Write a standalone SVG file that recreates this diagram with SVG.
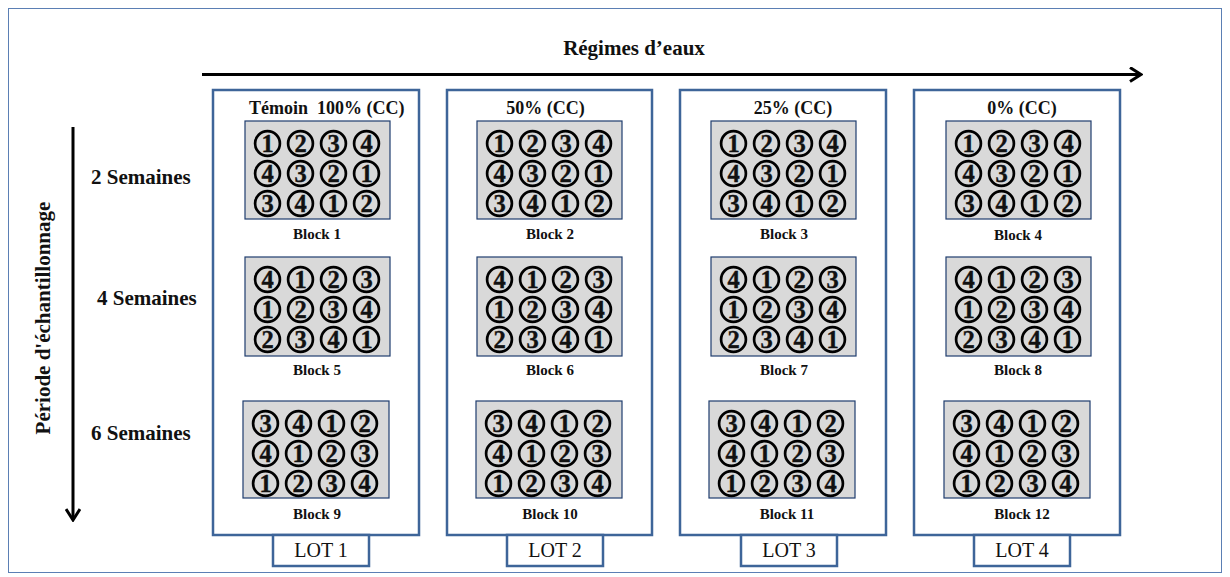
<svg xmlns="http://www.w3.org/2000/svg" width="1230" height="577" viewBox="0 0 1230 577">
  <style>
    .frame { fill: #ffffff; stroke: #5b7fb4; stroke-width: 1; }
    .lot { fill: #ffffff; stroke: #3e6599; stroke-width: 2.5; }
    .plot { fill: #d9d9d9; stroke: #1f3d6e; stroke-width: 1.2; }
    .pot { fill: none; stroke: #000000; stroke-width: 2.7; }
    .num { font-family: "Liberation Serif", "Times New Roman", serif; font-weight: bold; font-size: 24.5px; fill: #111111; stroke: #111111; stroke-width: 0.4; text-anchor: middle; }
    .head { font-family: "Liberation Serif", "Times New Roman", serif; font-weight: bold; font-size: 18px; fill: #111111; text-anchor: middle; }
    .head-start { text-anchor: start; }
    .blk { font-family: "Liberation Serif", "Times New Roman", serif; font-weight: bold; font-size: 15px; fill: #111111; text-anchor: middle; }
    .axis { font-family: "Liberation Serif", "Times New Roman", serif; font-weight: bold; font-size: 21px; fill: #111111; }
    .mid { text-anchor: middle; }
    .lotname { font-family: "Liberation Serif", "Times New Roman", serif; font-size: 20px; fill: #111111; text-anchor: middle; }
    .arrow { fill: none; stroke: #000000; stroke-width: 3; }
  </style>
  <defs>
    <marker id="chev" viewBox="0 0 14 16" refX="12" refY="8" markerWidth="14" markerHeight="16" markerUnits="userSpaceOnUse" orient="auto">
      <polyline points="1,1 12,8 1,15" fill="none" stroke="#000000" stroke-width="3"/>
    </marker>
  </defs>

  <!-- outer frame -->
  <rect class="frame" x="8.5" y="8.5" width="1213" height="564"/>

  <!-- axes -->
  <g id="connectors">
    <line class="arrow" x1="202" y1="74.5" x2="1141" y2="74.5" marker-end="url(#chev)"/>
    <line class="arrow" x1="73" y1="127" x2="73" y2="520" stroke-width="2.6" marker-end="url(#chev)"/>
  </g>
  <text class="axis mid" x="634" y="55">Régimes d’eaux</text>
  <text class="axis mid" transform="translate(50,318) rotate(-90)">Période d'échantillonnage</text>
  <text class="axis" x="91" y="184">2 Semaines</text>
  <text class="axis" x="97" y="305">4 Semaines</text>
  <text class="axis" x="91" y="440">6 Semaines</text>

  <!-- water regime lots -->
  <g id="lot1">
    <rect class="lot" x="213" y="90" width="206" height="445"/>
    <rect class="lot" x="273" y="535" width="96" height="31"/>
    <text class="lotname" x="321" y="557">LOT 1</text>
    <text class="head head-start" x="249" y="114" xml:space="preserve">Témoin  100% (CC)</text>
  </g>
  <g id="lot2">
    <rect class="lot" x="447" y="90" width="205" height="445"/>
    <rect class="lot" x="507" y="535" width="96" height="31"/>
    <text class="lotname" x="555" y="557">LOT 2</text>
    <text class="head" x="545.5" y="114">50% (CC)</text>
  </g>
  <g id="lot3">
    <rect class="lot" x="680" y="90" width="206" height="445"/>
    <rect class="lot" x="741" y="535" width="96" height="31"/>
    <text class="lotname" x="789" y="557">LOT 3</text>
    <text class="head" x="793" y="114">25% (CC)</text>
  </g>
  <g id="lot4">
    <rect class="lot" x="914" y="90" width="206" height="445"/>
    <rect class="lot" x="974" y="535" width="96" height="31"/>
    <text class="lotname" x="1022" y="557">LOT 4</text>
    <text class="head" x="1022" y="114">0% (CC)</text>
  </g>

  <!-- 2 weeks: blocks 1-4 -->
  <g id="block1" transform="translate(245,121)">
    <rect class="plot" x="0" y="0" width="145" height="98"/>
    <circle class="pot" cx="22.5" cy="22.5" r="12.4"/><circle class="pot" cx="55.5" cy="22.5" r="12.4"/><circle class="pot" cx="88.5" cy="22.5" r="12.4"/><circle class="pot" cx="121.5" cy="22.5" r="12.4"/>
    <circle class="pot" cx="22.5" cy="52.5" r="12.4"/><circle class="pot" cx="55.5" cy="52.5" r="12.4"/><circle class="pot" cx="88.5" cy="52.5" r="12.4"/><circle class="pot" cx="121.5" cy="52.5" r="12.4"/>
    <circle class="pot" cx="22.5" cy="82.5" r="12.4"/><circle class="pot" cx="55.5" cy="82.5" r="12.4"/><circle class="pot" cx="88.5" cy="82.5" r="12.4"/><circle class="pot" cx="121.5" cy="82.5" r="12.4"/>
    <text class="num" x="22.5" y="31">1</text><text class="num" x="55.5" y="31">2</text><text class="num" x="88.5" y="31">3</text><text class="num" x="121.5" y="31">4</text>
    <text class="num" x="22.5" y="61">4</text><text class="num" x="55.5" y="61">3</text><text class="num" x="88.5" y="61">2</text><text class="num" x="121.5" y="61">1</text>
    <text class="num" x="22.5" y="91">3</text><text class="num" x="55.5" y="91">4</text><text class="num" x="88.5" y="91">1</text><text class="num" x="121.5" y="91">2</text>
    <text class="blk" x="72" y="118">Block 1</text>
  </g>
  <g id="block2" transform="translate(477,121)">
    <rect class="plot" x="0" y="0" width="145" height="98"/>
    <circle class="pot" cx="22.5" cy="22.5" r="12.4"/><circle class="pot" cx="55.5" cy="22.5" r="12.4"/><circle class="pot" cx="88.5" cy="22.5" r="12.4"/><circle class="pot" cx="121.5" cy="22.5" r="12.4"/>
    <circle class="pot" cx="22.5" cy="52.5" r="12.4"/><circle class="pot" cx="55.5" cy="52.5" r="12.4"/><circle class="pot" cx="88.5" cy="52.5" r="12.4"/><circle class="pot" cx="121.5" cy="52.5" r="12.4"/>
    <circle class="pot" cx="22.5" cy="82.5" r="12.4"/><circle class="pot" cx="55.5" cy="82.5" r="12.4"/><circle class="pot" cx="88.5" cy="82.5" r="12.4"/><circle class="pot" cx="121.5" cy="82.5" r="12.4"/>
    <text class="num" x="22.5" y="31">1</text><text class="num" x="55.5" y="31">2</text><text class="num" x="88.5" y="31">3</text><text class="num" x="121.5" y="31">4</text>
    <text class="num" x="22.5" y="61">4</text><text class="num" x="55.5" y="61">3</text><text class="num" x="88.5" y="61">2</text><text class="num" x="121.5" y="61">1</text>
    <text class="num" x="22.5" y="91">3</text><text class="num" x="55.5" y="91">4</text><text class="num" x="88.5" y="91">1</text><text class="num" x="121.5" y="91">2</text>
    <text class="blk" x="73" y="118">Block 2</text>
  </g>
  <g id="block3" transform="translate(711,121)">
    <rect class="plot" x="0" y="0" width="145" height="98"/>
    <circle class="pot" cx="22.5" cy="22.5" r="12.4"/><circle class="pot" cx="55.5" cy="22.5" r="12.4"/><circle class="pot" cx="88.5" cy="22.5" r="12.4"/><circle class="pot" cx="121.5" cy="22.5" r="12.4"/>
    <circle class="pot" cx="22.5" cy="52.5" r="12.4"/><circle class="pot" cx="55.5" cy="52.5" r="12.4"/><circle class="pot" cx="88.5" cy="52.5" r="12.4"/><circle class="pot" cx="121.5" cy="52.5" r="12.4"/>
    <circle class="pot" cx="22.5" cy="82.5" r="12.4"/><circle class="pot" cx="55.5" cy="82.5" r="12.4"/><circle class="pot" cx="88.5" cy="82.5" r="12.4"/><circle class="pot" cx="121.5" cy="82.5" r="12.4"/>
    <text class="num" x="22.5" y="31">1</text><text class="num" x="55.5" y="31">2</text><text class="num" x="88.5" y="31">3</text><text class="num" x="121.5" y="31">4</text>
    <text class="num" x="22.5" y="61">4</text><text class="num" x="55.5" y="61">3</text><text class="num" x="88.5" y="61">2</text><text class="num" x="121.5" y="61">1</text>
    <text class="num" x="22.5" y="91">3</text><text class="num" x="55.5" y="91">4</text><text class="num" x="88.5" y="91">1</text><text class="num" x="121.5" y="91">2</text>
    <text class="blk" x="73" y="118">Block 3</text>
  </g>
  <g id="block4" transform="translate(946,121)">
    <rect class="plot" x="0" y="0" width="145" height="98"/>
    <circle class="pot" cx="22.5" cy="22.5" r="12.4"/><circle class="pot" cx="55.5" cy="22.5" r="12.4"/><circle class="pot" cx="88.5" cy="22.5" r="12.4"/><circle class="pot" cx="121.5" cy="22.5" r="12.4"/>
    <circle class="pot" cx="22.5" cy="52.5" r="12.4"/><circle class="pot" cx="55.5" cy="52.5" r="12.4"/><circle class="pot" cx="88.5" cy="52.5" r="12.4"/><circle class="pot" cx="121.5" cy="52.5" r="12.4"/>
    <circle class="pot" cx="22.5" cy="82.5" r="12.4"/><circle class="pot" cx="55.5" cy="82.5" r="12.4"/><circle class="pot" cx="88.5" cy="82.5" r="12.4"/><circle class="pot" cx="121.5" cy="82.5" r="12.4"/>
    <text class="num" x="22.5" y="31">1</text><text class="num" x="55.5" y="31">2</text><text class="num" x="88.5" y="31">3</text><text class="num" x="121.5" y="31">4</text>
    <text class="num" x="22.5" y="61">4</text><text class="num" x="55.5" y="61">3</text><text class="num" x="88.5" y="61">2</text><text class="num" x="121.5" y="61">1</text>
    <text class="num" x="22.5" y="91">3</text><text class="num" x="55.5" y="91">4</text><text class="num" x="88.5" y="91">1</text><text class="num" x="121.5" y="91">2</text>
    <text class="blk" x="72" y="119">Block 4</text>
  </g>

  <!-- 4 weeks: blocks 5-8 -->
  <g id="block5" transform="translate(245,257)">
    <rect class="plot" x="0" y="0" width="145" height="99"/>
    <circle class="pot" cx="22.5" cy="22.5" r="12.4"/><circle class="pot" cx="55.5" cy="22.5" r="12.4"/><circle class="pot" cx="88.5" cy="22.5" r="12.4"/><circle class="pot" cx="121.5" cy="22.5" r="12.4"/>
    <circle class="pot" cx="22.5" cy="52.5" r="12.4"/><circle class="pot" cx="55.5" cy="52.5" r="12.4"/><circle class="pot" cx="88.5" cy="52.5" r="12.4"/><circle class="pot" cx="121.5" cy="52.5" r="12.4"/>
    <circle class="pot" cx="22.5" cy="82.5" r="12.4"/><circle class="pot" cx="55.5" cy="82.5" r="12.4"/><circle class="pot" cx="88.5" cy="82.5" r="12.4"/><circle class="pot" cx="121.5" cy="82.5" r="12.4"/>
    <text class="num" x="22.5" y="31">4</text><text class="num" x="55.5" y="31">1</text><text class="num" x="88.5" y="31">2</text><text class="num" x="121.5" y="31">3</text>
    <text class="num" x="22.5" y="61">1</text><text class="num" x="55.5" y="61">2</text><text class="num" x="88.5" y="61">3</text><text class="num" x="121.5" y="61">4</text>
    <text class="num" x="22.5" y="91">2</text><text class="num" x="55.5" y="91">3</text><text class="num" x="88.5" y="91">4</text><text class="num" x="121.5" y="91">1</text>
    <text class="blk" x="72" y="118">Block 5</text>
  </g>
  <g id="block6" transform="translate(477,257)">
    <rect class="plot" x="0" y="0" width="145" height="99"/>
    <circle class="pot" cx="22.5" cy="22.5" r="12.4"/><circle class="pot" cx="55.5" cy="22.5" r="12.4"/><circle class="pot" cx="88.5" cy="22.5" r="12.4"/><circle class="pot" cx="121.5" cy="22.5" r="12.4"/>
    <circle class="pot" cx="22.5" cy="52.5" r="12.4"/><circle class="pot" cx="55.5" cy="52.5" r="12.4"/><circle class="pot" cx="88.5" cy="52.5" r="12.4"/><circle class="pot" cx="121.5" cy="52.5" r="12.4"/>
    <circle class="pot" cx="22.5" cy="82.5" r="12.4"/><circle class="pot" cx="55.5" cy="82.5" r="12.4"/><circle class="pot" cx="88.5" cy="82.5" r="12.4"/><circle class="pot" cx="121.5" cy="82.5" r="12.4"/>
    <text class="num" x="22.5" y="31">4</text><text class="num" x="55.5" y="31">1</text><text class="num" x="88.5" y="31">2</text><text class="num" x="121.5" y="31">3</text>
    <text class="num" x="22.5" y="61">1</text><text class="num" x="55.5" y="61">2</text><text class="num" x="88.5" y="61">3</text><text class="num" x="121.5" y="61">4</text>
    <text class="num" x="22.5" y="91">2</text><text class="num" x="55.5" y="91">3</text><text class="num" x="88.5" y="91">4</text><text class="num" x="121.5" y="91">1</text>
    <text class="blk" x="73" y="118">Block 6</text>
  </g>
  <g id="block7" transform="translate(711,257)">
    <rect class="plot" x="0" y="0" width="145" height="99"/>
    <circle class="pot" cx="22.5" cy="22.5" r="12.4"/><circle class="pot" cx="55.5" cy="22.5" r="12.4"/><circle class="pot" cx="88.5" cy="22.5" r="12.4"/><circle class="pot" cx="121.5" cy="22.5" r="12.4"/>
    <circle class="pot" cx="22.5" cy="52.5" r="12.4"/><circle class="pot" cx="55.5" cy="52.5" r="12.4"/><circle class="pot" cx="88.5" cy="52.5" r="12.4"/><circle class="pot" cx="121.5" cy="52.5" r="12.4"/>
    <circle class="pot" cx="22.5" cy="82.5" r="12.4"/><circle class="pot" cx="55.5" cy="82.5" r="12.4"/><circle class="pot" cx="88.5" cy="82.5" r="12.4"/><circle class="pot" cx="121.5" cy="82.5" r="12.4"/>
    <text class="num" x="22.5" y="31">4</text><text class="num" x="55.5" y="31">1</text><text class="num" x="88.5" y="31">2</text><text class="num" x="121.5" y="31">3</text>
    <text class="num" x="22.5" y="61">1</text><text class="num" x="55.5" y="61">2</text><text class="num" x="88.5" y="61">3</text><text class="num" x="121.5" y="61">4</text>
    <text class="num" x="22.5" y="91">2</text><text class="num" x="55.5" y="91">3</text><text class="num" x="88.5" y="91">4</text><text class="num" x="121.5" y="91">1</text>
    <text class="blk" x="73" y="118">Block 7</text>
  </g>
  <g id="block8" transform="translate(946,257)">
    <rect class="plot" x="0" y="0" width="145" height="99"/>
    <circle class="pot" cx="22.5" cy="22.5" r="12.4"/><circle class="pot" cx="55.5" cy="22.5" r="12.4"/><circle class="pot" cx="88.5" cy="22.5" r="12.4"/><circle class="pot" cx="121.5" cy="22.5" r="12.4"/>
    <circle class="pot" cx="22.5" cy="52.5" r="12.4"/><circle class="pot" cx="55.5" cy="52.5" r="12.4"/><circle class="pot" cx="88.5" cy="52.5" r="12.4"/><circle class="pot" cx="121.5" cy="52.5" r="12.4"/>
    <circle class="pot" cx="22.5" cy="82.5" r="12.4"/><circle class="pot" cx="55.5" cy="82.5" r="12.4"/><circle class="pot" cx="88.5" cy="82.5" r="12.4"/><circle class="pot" cx="121.5" cy="82.5" r="12.4"/>
    <text class="num" x="22.5" y="31">4</text><text class="num" x="55.5" y="31">1</text><text class="num" x="88.5" y="31">2</text><text class="num" x="121.5" y="31">3</text>
    <text class="num" x="22.5" y="61">1</text><text class="num" x="55.5" y="61">2</text><text class="num" x="88.5" y="61">3</text><text class="num" x="121.5" y="61">4</text>
    <text class="num" x="22.5" y="91">2</text><text class="num" x="55.5" y="91">3</text><text class="num" x="88.5" y="91">4</text><text class="num" x="121.5" y="91">1</text>
    <text class="blk" x="72" y="118">Block 8</text>
  </g>

  <!-- 6 weeks: blocks 9-12 -->
  <g id="block9" transform="translate(243,401)">
    <rect class="plot" x="0" y="0" width="146" height="97"/>
    <circle class="pot" cx="22.5" cy="22.5" r="12.4"/><circle class="pot" cx="55.5" cy="22.5" r="12.4"/><circle class="pot" cx="88.5" cy="22.5" r="12.4"/><circle class="pot" cx="121.5" cy="22.5" r="12.4"/>
    <circle class="pot" cx="22.5" cy="52.5" r="12.4"/><circle class="pot" cx="55.5" cy="52.5" r="12.4"/><circle class="pot" cx="88.5" cy="52.5" r="12.4"/><circle class="pot" cx="121.5" cy="52.5" r="12.4"/>
    <circle class="pot" cx="22.5" cy="82.5" r="12.4"/><circle class="pot" cx="55.5" cy="82.5" r="12.4"/><circle class="pot" cx="88.5" cy="82.5" r="12.4"/><circle class="pot" cx="121.5" cy="82.5" r="12.4"/>
    <text class="num" x="22.5" y="31">3</text><text class="num" x="55.5" y="31">4</text><text class="num" x="88.5" y="31">1</text><text class="num" x="121.5" y="31">2</text>
    <text class="num" x="22.5" y="61">4</text><text class="num" x="55.5" y="61">1</text><text class="num" x="88.5" y="61">2</text><text class="num" x="121.5" y="61">3</text>
    <text class="num" x="22.5" y="91">1</text><text class="num" x="55.5" y="91">2</text><text class="num" x="88.5" y="91">3</text><text class="num" x="121.5" y="91">4</text>
    <text class="blk" x="74" y="118">Block 9</text>
  </g>
  <g id="block10" transform="translate(476,401)">
    <rect class="plot" x="0" y="0" width="146" height="97"/>
    <circle class="pot" cx="22.5" cy="22.5" r="12.4"/><circle class="pot" cx="55.5" cy="22.5" r="12.4"/><circle class="pot" cx="88.5" cy="22.5" r="12.4"/><circle class="pot" cx="121.5" cy="22.5" r="12.4"/>
    <circle class="pot" cx="22.5" cy="52.5" r="12.4"/><circle class="pot" cx="55.5" cy="52.5" r="12.4"/><circle class="pot" cx="88.5" cy="52.5" r="12.4"/><circle class="pot" cx="121.5" cy="52.5" r="12.4"/>
    <circle class="pot" cx="22.5" cy="82.5" r="12.4"/><circle class="pot" cx="55.5" cy="82.5" r="12.4"/><circle class="pot" cx="88.5" cy="82.5" r="12.4"/><circle class="pot" cx="121.5" cy="82.5" r="12.4"/>
    <text class="num" x="22.5" y="31">3</text><text class="num" x="55.5" y="31">4</text><text class="num" x="88.5" y="31">1</text><text class="num" x="121.5" y="31">2</text>
    <text class="num" x="22.5" y="61">4</text><text class="num" x="55.5" y="61">1</text><text class="num" x="88.5" y="61">2</text><text class="num" x="121.5" y="61">3</text>
    <text class="num" x="22.5" y="91">1</text><text class="num" x="55.5" y="91">2</text><text class="num" x="88.5" y="91">3</text><text class="num" x="121.5" y="91">4</text>
    <text class="blk" x="74" y="118">Block 10</text>
  </g>
  <g id="block11" transform="translate(709,401)">
    <rect class="plot" x="0" y="0" width="146" height="97"/>
    <circle class="pot" cx="22.5" cy="22.5" r="12.4"/><circle class="pot" cx="55.5" cy="22.5" r="12.4"/><circle class="pot" cx="88.5" cy="22.5" r="12.4"/><circle class="pot" cx="121.5" cy="22.5" r="12.4"/>
    <circle class="pot" cx="22.5" cy="52.5" r="12.4"/><circle class="pot" cx="55.5" cy="52.5" r="12.4"/><circle class="pot" cx="88.5" cy="52.5" r="12.4"/><circle class="pot" cx="121.5" cy="52.5" r="12.4"/>
    <circle class="pot" cx="22.5" cy="82.5" r="12.4"/><circle class="pot" cx="55.5" cy="82.5" r="12.4"/><circle class="pot" cx="88.5" cy="82.5" r="12.4"/><circle class="pot" cx="121.5" cy="82.5" r="12.4"/>
    <text class="num" x="22.5" y="31">3</text><text class="num" x="55.5" y="31">4</text><text class="num" x="88.5" y="31">1</text><text class="num" x="121.5" y="31">2</text>
    <text class="num" x="22.5" y="61">4</text><text class="num" x="55.5" y="61">1</text><text class="num" x="88.5" y="61">2</text><text class="num" x="121.5" y="61">3</text>
    <text class="num" x="22.5" y="91">1</text><text class="num" x="55.5" y="91">2</text><text class="num" x="88.5" y="91">3</text><text class="num" x="121.5" y="91">4</text>
    <text class="blk" x="78" y="118">Block 11</text>
  </g>
  <g id="block12" transform="translate(944,401)">
    <rect class="plot" x="0" y="0" width="146" height="97"/>
    <circle class="pot" cx="22.5" cy="22.5" r="12.4"/><circle class="pot" cx="55.5" cy="22.5" r="12.4"/><circle class="pot" cx="88.5" cy="22.5" r="12.4"/><circle class="pot" cx="121.5" cy="22.5" r="12.4"/>
    <circle class="pot" cx="22.5" cy="52.5" r="12.4"/><circle class="pot" cx="55.5" cy="52.5" r="12.4"/><circle class="pot" cx="88.5" cy="52.5" r="12.4"/><circle class="pot" cx="121.5" cy="52.5" r="12.4"/>
    <circle class="pot" cx="22.5" cy="82.5" r="12.4"/><circle class="pot" cx="55.5" cy="82.5" r="12.4"/><circle class="pot" cx="88.5" cy="82.5" r="12.4"/><circle class="pot" cx="121.5" cy="82.5" r="12.4"/>
    <text class="num" x="22.5" y="31">3</text><text class="num" x="55.5" y="31">4</text><text class="num" x="88.5" y="31">1</text><text class="num" x="121.5" y="31">2</text>
    <text class="num" x="22.5" y="61">4</text><text class="num" x="55.5" y="61">1</text><text class="num" x="88.5" y="61">2</text><text class="num" x="121.5" y="61">3</text>
    <text class="num" x="22.5" y="91">1</text><text class="num" x="55.5" y="91">2</text><text class="num" x="88.5" y="91">3</text><text class="num" x="121.5" y="91">4</text>
    <text class="blk" x="78" y="118">Block 12</text>
  </g>
</svg>
